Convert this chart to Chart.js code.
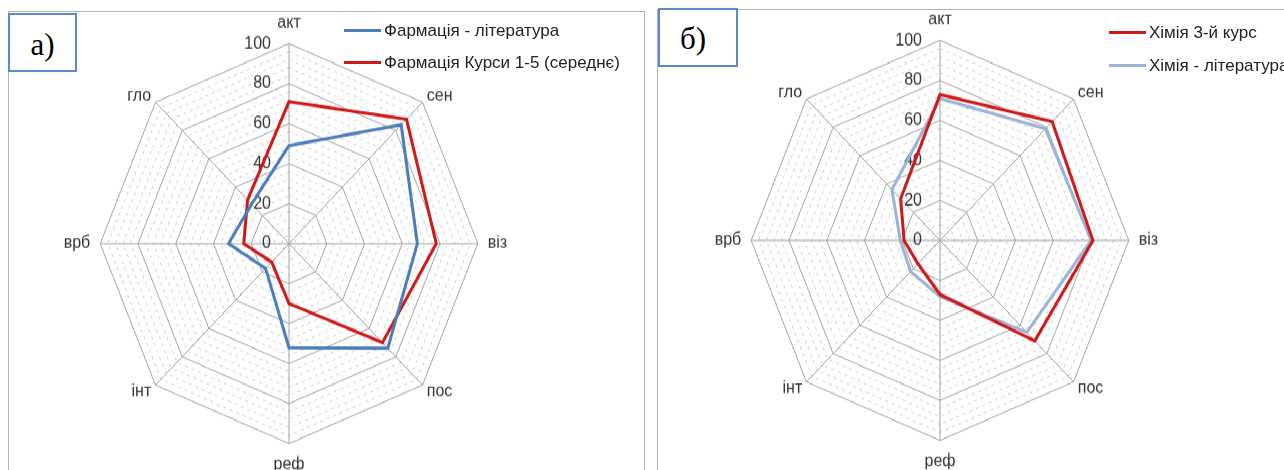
<!DOCTYPE html>
<html>
<head>
<meta charset="utf-8">
<script src="https://cdn.jsdelivr.net/npm/chart.js@4.4.1/dist/chart.umd.min.js"></script>
<style>
  html, body { margin: 0; padding: 0; background: #fff; }
  body { width: 1284px; height: 470px; position: relative; overflow: hidden; font-family: 'Liberation Sans', Arial, sans-serif; }
  .panel { position: absolute; height: 600px; border-top: 1px solid #b4b4b4; border-left: 1px solid #b4b4b4; border-right: 1px solid #b4b4b4; }
  .stretch { position: absolute; left: 0; top: 0; width: 1284px; height: 448px; transform-origin: 0 0; transform: scaleY(1.0593); }
  .stretch canvas { position: absolute; top: 0; }
  .tag { position: absolute; z-index: 3; box-sizing: border-box; border: 2px solid #5b8bcf; background: #fff;
         font-family: 'Liberation Serif', 'DejaVu Serif', serif; font-size: 31px; color: #000;
         display: flex; align-items: center; justify-content: center; }
  .legend { position: absolute; z-index: 2; font-size: 17px; color: #222; }
  .legend div { position: absolute; left: 0; white-space: nowrap; height: 20px; line-height: 20px; }
  .legend span { display: inline-block; width: 37px; height: 3px; vertical-align: middle; margin-right: 3px; position: relative; top: -1px; }
</style>
</head>
<body>
<div class="panel" style="left:8px; top:11px; width:635px;"></div>
<div class="panel" style="left:657px; top:9px; width:700px;"></div>

<div class="stretch">
  <canvas id="chartA" width="520" height="448" style="left:29px;"></canvas>
  <canvas id="chartB" width="520" height="445" style="left:680px;"></canvas>
</div>

<div class="tag" style="left:8px; top:13px; width:69px; height:59px; padding-top:4px;">а)</div>
<div class="tag" style="left:658px; top:8px; width:80px; height:59px; padding-top:2px; padding-right:10px;">б)</div>

<div class="legend" id="legendA" style="left:344px; top:0;"></div>
<div class="legend" id="legendB" style="left:1109px; top:0;"></div>

<script>
// осі (за годинниковою стрілкою від верху)
const categories = ['акт', 'сен', 'віз', 'пос', 'реф', 'інт', 'врб', 'гло'];
const tickLabels = [0, 20, 40, 60, 80, 100];

// а) фармація
const pharmLitLabel = 'Фармація - література';
const pharmLit = [49, 84, 68, 74, 52, 17.5, 32, 28];
const pharmCoursesLabel = 'Фармація Курси 1-5 (середнє)';
const pharmCourses = [71, 88, 78, 70, 30, 13, 24, 31];

// б) хімія
const chemCourse3Label = 'Хімія 3-й курс';
const chemCourse3 = [73, 84, 81, 71, 27, 16.5, 19, 29.5];
const chemLitLabel = 'Хімія - література';
const chemLit = [71, 79, 80, 65, 28, 22, 21, 36];

const FONT = "'Liberation Sans', Arial, sans-serif";

// підписи 0..100 ліворуч від вертикальної осі
const tickLabelPlugin = {
    id: 'tickLabels',
    beforeDatasetsDraw(chart) {
        const scale = chart.scales.r;
        const ctx = chart.ctx;
        ctx.save();
        ctx.font = '16px ' + FONT;
        ctx.fillStyle = '#333';
        ctx.textAlign = 'right';
        ctx.textBaseline = 'middle';
        tickLabels.forEach(v => {
            ctx.fillText(String(v), scale.xCenter - 18, scale.yCenter - scale.getDistanceFromCenterForValue(v));
        });
        ctx.restore();
    }
};

function createRadar(id, topPad, series) {
    const ctx = document.getElementById(id);
    return new Chart(ctx, {
        type: 'radar',
        data: {
            labels: categories,
            datasets: series.map(s => ({
                label: s.label,
                data: s.data,
                borderColor: s.color,
                borderWidth: 3,
                pointRadius: 0,
                pointHoverRadius: 0,
                fill: false,
                tension: 0
            }))
        },
        options: {
            responsive: false,
            animation: false,
            layout: { padding: { top: topPad, left: 0, right: 0, bottom: 0 } },
            plugins: {
                legend: { display: false },
                tooltip: { enabled: false }
            },
            scales: {
                r: {
                    min: 0,
                    max: 100,
                    ticks: { display: false, stepSize: 4, maxTicksLimit: 40 },
                    grid: {
                        color: c => (c.tick && c.tick.value % 20 === 0) ? '#a3a3a3' : '#cfcfcf',
                        lineWidth: 1
                    },
                    border: {
                        dash: c => (c.tick && c.tick.value % 20 === 0) ? [] : [3, 4]
                    },
                    angleLines: { color: '#a3a3a3', lineWidth: 1 },
                    pointLabels: {
                        // діагональні підписи стоять поруч з вершиною, а не над нею
                        font: c => ({ family: FONT, size: 16, lineHeight: c.index % 2 === 1 ? 0.2 : 1.2 }),
                        color: '#333',
                        padding: c => c.index % 2 === 1 ? 6 : 10
                    }
                }
            }
        },
        plugins: [tickLabelPlugin]
    });
}

function buildLegend(id, series, rows) {
    const box = document.getElementById(id);
    series.forEach((s, i) => {
        const row = document.createElement('div');
        row.style.top = (rows[i] - 10) + 'px';
        const line = document.createElement('span');
        line.style.background = s.color;
        row.appendChild(line);
        row.appendChild(document.createTextNode(s.label));
        box.appendChild(row);
    });
}

document.addEventListener('DOMContentLoaded', () => {
    const seriesA = [
        { label: pharmLitLabel, data: pharmLit, color: '#4a7ebb' },
        { label: pharmCoursesLabel, data: pharmCourses, color: '#d01818' }
    ];
    const seriesB = [
        { label: chemCourse3Label, data: chemCourse3, color: '#d01818' },
        { label: chemLitLabel, data: chemLit, color: '#9ab3d6' }
    ];
    createRadar('chartA', 12, seriesA);
    createRadar('chartB', 9, seriesB);
    buildLegend('legendA', seriesA, [31, 63]);
    buildLegend('legendB', seriesB, [33, 66]);
});
</script>
</body>
</html>
